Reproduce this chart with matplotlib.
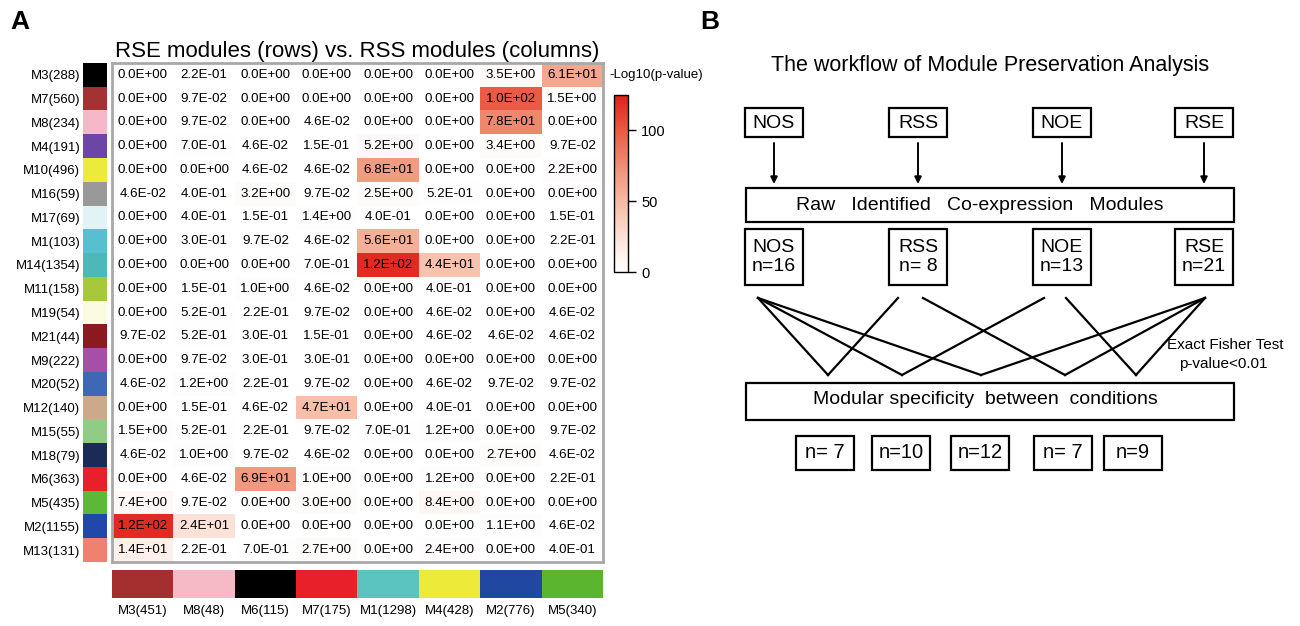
import numpy as np
import matplotlib
matplotlib.use("Agg")
from matplotlib import pyplot as plt
from matplotlib.colors import LinearSegmentedColormap, to_rgb
from matplotlib.patches import Rectangle

plt.rcParams['font.family'] = ['Liberation Sans', 'DejaVu Sans']

# heatmap data: -log10(p-value) overlap, RSE modules (rows) vs RSS modules (columns)
row_labels = ["M3(288)", "M7(560)", "M8(234)", "M4(191)", "M10(496)", "M16(59)", "M17(69)",
              "M1(103)", "M14(1354)", "M11(158)", "M19(54)", "M21(44)", "M9(222)", "M20(52)",
              "M12(140)", "M15(55)", "M18(79)", "M6(363)", "M5(435)", "M2(1155)", "M13(131)"]
row_colors = ["#000000", "#a33333", "#f6b8c8", "#6b46a6", "#ecea3a", "#999999", "#e2f3f5",
              "#58bfd0", "#4cb8b8", "#a6c83a", "#fbfbe2", "#8a1a1e", "#a64fa6", "#3e68b6",
              "#cba98a", "#90cc84", "#1c2a58", "#e8202a", "#5db83a", "#2048a8", "#f08070"]
col_labels = ["M3(451)", "M8(48)", "M6(115)", "M7(175)", "M1(1298)", "M4(428)", "M2(776)", "M5(340)"]
col_colors = ["#a3302e", "#f6b9c6", "#000000", "#e8202a", "#5cc4c0", "#eeea3a", "#2148a0", "#5cb52e"]

M3 = [0, 0.22, 0, 0, 0, 0, 3.5, 61]
M7 = [0, 0.097, 0, 0, 0, 0, 100, 1.5]
M8 = [0, 0.097, 0, 0.046, 0, 0, 78, 0]
M4 = [0, 0.70, 0.046, 0.15, 5.2, 0, 3.4, 0.097]
M10 = [0, 0, 0.046, 0.046, 68, 0, 0, 2.2]
M16 = [0.046, 0.40, 3.2, 0.097, 2.5, 0.52, 0, 0]
M17 = [0, 0.40, 0.15, 1.4, 0.40, 0, 0, 0.15]
M1 = [0, 0.30, 0.097, 0.046, 56, 0, 0, 0.22]
M14 = [0, 0, 0, 0.70, 120, 44, 0, 0]
M11 = [0, 0.15, 1.0, 0.046, 0, 0.40, 0, 0]
M19 = [0, 0.52, 0.22, 0.097, 0, 0.046, 0, 0.046]
M21 = [0.097, 0.52, 0.30, 0.15, 0, 0.046, 0.046, 0.046]
M9 = [0, 0.097, 0.30, 0.30, 0, 0, 0, 0]
M20 = [0.046, 1.2, 0.22, 0.097, 0, 0.046, 0.097, 0.097]
M12 = [0, 0.15, 0.046, 47, 0, 0.40, 0, 0]
M15 = [1.5, 0.52, 0.22, 0.097, 0.70, 1.2, 0, 0.097]
M18 = [0.046, 1.0, 0.097, 0.046, 0, 0, 2.7, 0.046]
M6 = [0, 0.046, 69, 1.0, 0, 1.2, 0, 0.22]
M5 = [7.4, 0.097, 0, 3.0, 0, 8.4, 0, 0]
M2 = [120, 24, 0, 0, 0, 0, 1.1, 0.046]
M13 = [14, 0.22, 0.70, 2.7, 0, 2.4, 0, 0.40]

# workflow data (panel B)
conditions = ["NOS", "RSS", "NOE", "RSE"]
n_modules = [16, 8, 13, 21]
pairs = [("NOS", "RSS"), ("NOS", "NOE"), ("NOS", "RSE"), ("RSS", "RSE"), ("NOE", "RSE")]
n_specific = [7, 10, 12, 7, 9]
n_text = ["n= 7", "n=10", "n=12", "n= 7", "n=9"]

vals = np.array([M3, M7, M8, M4, M10, M16, M17, M1, M14, M11, M19, M21, M9, M20,
                 M12, M15, M18, M6, M5, M2, M13])

W, H = 1300, 626
fig = plt.figure(figsize=(W / 100, H / 100), dpi=100)


def px_axes(x0, y0, x1, y1):
    # axes placed by pixel box (top-left origin)
    return fig.add_axes([x0 / W, 1 - y1 / H, (x1 - x0) / W, (y1 - y0) / H])


cmap = LinearSegmentedColormap.from_list(
    "wr", [(0, "#ffffff"), (0.1, "#fef2ee"), (0.35, "#f8c4b0"), (0.55, "#f19a80"),
           (0.8, "#ea5a44"), (1, "#e0201a")])

# ---- panel A: heatmap ----
ax = px_axes(112, 63, 603, 562)
im = ax.imshow(vals, cmap=cmap, vmin=0, vmax=125, aspect='auto', interpolation='nearest')
for i in range(vals.shape[0]):
    for j in range(vals.shape[1]):
        ax.text(j, i, "%.1E" % vals[i, j], ha='center', va='center', fontsize=9.6)
ax.set_xticks([])
ax.set_yticks([])
for s in ax.spines.values():
    s.set_color("#a8a8a8")
    s.set_linewidth(2)
ax.set_title("RSE modules (rows) vs. RSS modules (columns)", fontsize=16, pad=4)

# row colour strip with labels
axr = px_axes(83, 63, 107, 562)
axr.imshow(np.array([[to_rgb(c)] for c in row_colors]), aspect='auto')
axr.set_xticks([])
axr.set_yticks(range(len(row_labels)))
axr.set_yticklabels(row_labels, fontsize=9.5)
axr.tick_params(axis='y', length=0, pad=2)
for s in axr.spines.values():
    s.set_visible(False)

# column colour strip with labels
axc = px_axes(112, 570, 603, 598)
axc.imshow(np.array([[to_rgb(c) for c in col_colors]]), aspect='auto')
axc.set_yticks([])
axc.set_xticks(range(len(col_labels)))
axc.set_xticklabels(col_labels, fontsize=9.5)
axc.tick_params(axis='x', length=0, pad=5)
for s in axc.spines.values():
    s.set_visible(False)

# colorbar
cax = px_axes(614, 95, 628, 272)
cb = fig.colorbar(im, cax=cax, ticks=[0, 50, 100])
cb.outline.set_linewidth(1)
cb.ax.tick_params(length=6, width=1, labelsize=10.5)

# ---- overlay axes in pixel coordinates for labels and panel B ----
ov = fig.add_axes([0, 0, 1, 1], facecolor='none')
ov.set_xlim(0, W)
ov.set_ylim(H, 0)
ov.axis('off')

ov.text(10, 22, "A", fontsize=19, fontweight='bold', va='center')
ov.text(700, 22, "B", fontsize=19, fontweight='bold', va='center')
ov.text(609, 75, "-Log10(p-value)", fontsize=9.5, va='center')

ov.text(990, 66, "The workflow of Module Preservation Analysis", fontsize=15.5,
        ha='center', va='center')

xs = dict(zip(conditions, [774, 918, 1062, 1204]))
bw = 58


def box(x0, y0, x1, y1, lw=1.6):
    ov.add_patch(Rectangle((x0, y0), x1 - x0, y1 - y0, fill=False, lw=lw, ec='black'))


for c in conditions:
    x = xs[c]
    box(x - bw / 2, 108, x + bw / 2, 137)
    ov.text(x, 123, c, fontsize=14, ha='center', va='center')
    ov.annotate("", xy=(x, 184), xytext=(x, 143),
                arrowprops=dict(arrowstyle='-|>', color='black', lw=1.4,
                                mutation_scale=10, shrinkA=0, shrinkB=0))

box(746, 188, 1234, 222)
ov.text(980, 205, "Raw   Identified   Co-expression   Modules", fontsize=14,
        ha='center', va='center')

for c, n in zip(conditions, n_modules):
    x = xs[c]
    box(x - bw / 2, 229, x + bw / 2, 285)
    ov.text(x, 257, "%s\nn=%2d" % (c, n), fontsize=14, ha='center', va='center',
            linespacing=1.2)

# lines from each condition to the pair apex
apex_x = [828, 902, 981, 1065, 1136]
start_off = {("NOS", 0): -16, ("NOS", 1): -16, ("NOS", 2): -16,
             ("RSS", 0): -20, ("RSS", 3): 5, ("NOE", 1): -18, ("NOE", 4): 4,
             ("RSE", 2): 1, ("RSE", 3): 1, ("RSE", 4): 1}
for k, (a, b) in enumerate(pairs):
    for c in (a, b):
        x0 = xs[c] + start_off[(c, k)]
        ov.plot([x0, apex_x[k]], [298, 375], color='black', lw=1.6)

ov.text(1225, 345, "Exact Fisher Test", fontsize=11, ha='center', va='center')
ov.text(1223, 364, "p-value<0.01", fontsize=11, ha='center', va='center')

box(746, 383, 1234, 420)
ov.text(985, 400, "Modular specificity  between  conditions", fontsize=14,
        ha='center', va='center')

bottom_x = [825, 901, 980, 1063, 1133]
for x, t in zip(bottom_x, n_text):
    box(x - 29, 436, x + 29, 470)
    ov.text(x, 453, t, fontsize=14.5, ha='center', va='center')

fig.savefig("out.png", dpi=100)
